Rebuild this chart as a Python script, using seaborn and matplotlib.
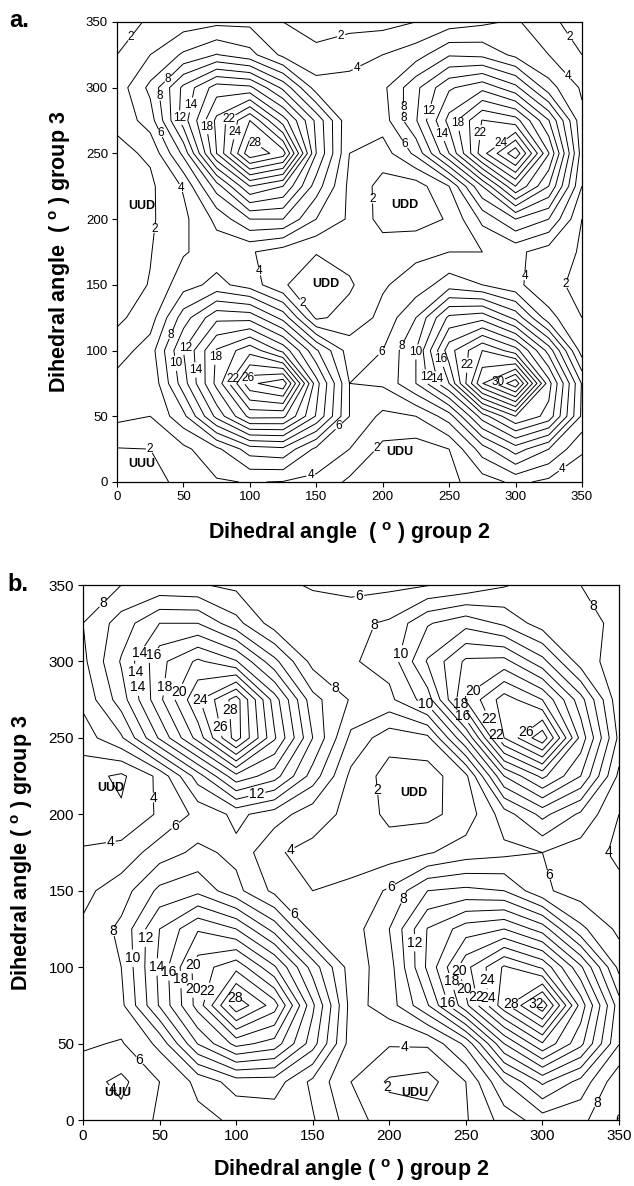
import numpy as np
import matplotlib
matplotlib.use('Agg')
import matplotlib.pyplot as plt
import seaborn as sns

# grid of dihedral angles (deg) on which the energies were read
angles = list(range(0, 351, 25))
levels = list(range(2, 33, 2))
ticks = list(range(0, 351, 50))

# panel a energies, rows from 350 (top) down to 0, columns 0..350
energy_a = [
    [1.0, 2.3, 3.0, 3.5, 3.5, 2.0, 1.5, 1.2, 1.3, 2.0, 3.0, 3.6, 4.3, 2.5, 1.0],
    [2.0, 4.0, 6.3, 8.1, 6.7, 3.5, 2.3, 3.5, 4.0, 5.1, 7.8, 7.5, 5.5, 4.0, 2.0],
    [2.8, 6.5, 12.5, 17.0, 16.5, 11.5, 5.0, 4.5, 5.5, 9.5, 13.7, 15.4, 12.6, 6.8, 3.7],
    [2.4, 5.0, 13.0, 20.5, 26.0, 19.0, 11.5, 4.3, 5.0, 9.8, 16.7, 22.1, 20.9, 14.1, 4.5],
    [1.5, 2.3, 8.5, 20.0, 29.5, 27.0, 12.0, 4.0, 3.0, 6.5, 14.0, 23.2, 29.5, 18.1, 5.0],
    [1.0, 1.6, 4.2, 11.0, 18.0, 16.0, 9.0, 3.5, 1.3, 1.0, 4.0, 12.0, 20.0, 14.0, 4.0],
    [0.6, 1.7, 3.5, 6.5, 10.0, 10.0, 6.0, 3.7, 1.3, 1.1, 2.2, 6.5, 10.0, 8.0, 2.0],
    [0.8, 1.9, 3.8, 5.0, 4.2, 3.0, 2.1, 2.8, 3.0, 3.6, 4.0, 4.0, 4.5, 3.0, 1.8],
    [1.0, 2.1, 5.2, 6.6, 5.1, 2.2, 0.8, 1.7, 3.8, 4.8, 7.1, 6.0, 4.5, 2.5, 1.5],
    [1.6, 3.0, 9.0, 13.5, 13.3, 9.3, 1.6, 2.8, 4.5, 8.0, 14.5, 15.3, 11.4, 4.7, 2.0],
    [3.0, 5.0, 12.0, 18.2, 21.3, 17.4, 10.3, 5.0, 6.0, 10.0, 19.2, 24.0, 20.9, 13.2, 3.0],
    [4.8, 4.2, 11.1, 18.6, 27.5, 29.5, 14.8, 6.0, 6.3, 10.0, 16.0, 27.9, 33.5, 18.8, 7.8],
    [4.5, 4.0, 7.4, 14.6, 20.6, 20.5, 13.8, 6.0, 3.5, 4.0, 7.0, 15.0, 20.0, 17.3, 7.6],
    [1.9, 2.0, 3.5, 5.5, 9.0, 9.5, 5.5, 4.0, 1.5, 1.0, 2.0, 7.0, 11.0, 8.0, 4.3],
    [0.5, 1.0, 2.8, 3.8, 4.1, 3.9, 3.5, 1.6, 0.8, 0.6, 1.5, 3.0, 4.5, 3.5, 2.5],
]

# panel b energies, same layout
energy_b = [
    [7.0, 8.0, 8.5, 8.2, 7.5, 6.5, 5.8, 5.3, 5.5, 5.9, 6.5, 7.8, 9.0, 8.0, 7.2],
    [8.0, 10.9, 14.0, 14.0, 10.7, 7.0, 7.2, 7.5, 8.3, 11.8, 13.3, 11.6, 9.0, 8.3, 7.8],
    [7.5, 12.2, 17.4, 20.4, 18.2, 12.6, 7.3, 7.8, 8.7, 14.2, 18.4, 18.7, 14.7, 9.0, 7.0],
    [6.5, 11.0, 17.5, 23.7, 29.0, 19.0, 10.7, 7.8, 7.5, 11.0, 20.2, 25.0, 22.0, 14.8, 6.6],
    [5.0, 7.7, 14.3, 20.8, 29.0, 20.3, 12.0, 5.5, 2.8, 3.5, 12.0, 24.0, 29.5, 17.3, 7.5],
    [2.8, 1.6, 4.5, 11.0, 17.4, 14.9, 9.1, 3.5, 1.2, 1.0, 3.5, 14.0, 18.5, 14.0, 5.5],
    [3.0, 2.3, 4.3, 6.5, 8.5, 7.0, 4.8, 3.5, 1.5, 1.5, 2.8, 7.0, 10.6, 7.6, 4.0],
    [4.2, 4.8, 7.0, 8.5, 7.5, 4.2, 3.5, 3.0, 3.0, 3.8, 5.0, 5.5, 6.0, 5.0, 3.6],
    [5.5, 7.0, 10.5, 11.5, 8.6, 5.5, 4.0, 4.5, 6.3, 10.0, 10.5, 10.0, 6.4, 5.0, 4.5],
    [6.3, 8.5, 14.0, 17.8, 16.0, 11.2, 5.3, 5.0, 8.0, 14.1, 17.0, 18.0, 15.1, 8.5, 5.5],
    [6.3, 8.0, 14.5, 21.0, 23.4, 18.3, 11.1, 5.0, 7.1, 14.4, 21.4, 26.3, 23.7, 16.4, 7.4],
    [6.8, 7.5, 14.2, 20.8, 29.5, 25.0, 14.4, 5.2, 7.0, 11.8, 19.5, 27.3, 33.5, 21.2, 10.9],
    [6.3, 5.8, 8.5, 16.1, 20.7, 19.2, 12.9, 5.0, 4.2, 4.3, 8.5, 18.0, 23.8, 18.6, 10.1],
    [4.8, 3.5, 6.0, 8.5, 11.0, 11.0, 7.5, 4.0, 1.7, 1.2, 4.0, 10.0, 14.4, 11.3, 6.5],
    [4.8, 4.6, 6.3, 7.5, 8.3, 8.8, 8.2, 5.0, 2.8, 2.8, 3.8, 6.8, 9.0, 8.5, 6.0],
]

conformers = ['UUD', 'UDD', 'UDD', 'UUU', 'UDU']
sites_a = [(19, 210), (217, 211), (157, 151), (19, 14), (213, 23)]
conformers_b = ['UUD', 'UDD', 'UUU', 'UDU']
sites_b = [(18, 217), (216, 214), (23, 18), (217, 18)]

# where the contour values are written (deg)
clabel_a = [(11, 338), (38, 307), (29, 293), (55, 287), (47, 277), (65, 270), (84, 277),
            (90, 266), (104, 258), (32, 265), (49, 224), (27, 193),
            (170, 335), (178, 320), (337, 336), (337, 307), (219, 285), (232, 283),
            (214, 277), (220, 259), (257, 273), (245, 265), (281, 265), (290, 256),
            (187, 215), (138, 135), (110, 161),
            (38, 113), (50, 103), (42, 90), (56, 85), (72, 95), (85, 80), (100, 78),
            (26, 26), (144, 13), (169, 40),
            (198, 100), (213, 104), (223, 99), (233, 80), (243, 93), (243, 79),
            (262, 89), (287, 76), (190, 30), (336, 9), (316, 156), (328, 154)]
clabel_b = [(15, 336), (39, 304), (49, 302), (35, 293), (34, 283), (57, 283), (65, 279),
            (75, 275), (95, 268), (89, 257),
            (181, 339), (182, 327), (332, 336),
            (208, 305), (172, 291), (223, 270), (253, 283), (248, 273), (248, 264),
            (266, 263), (270, 252), (288, 255),
            (16, 196), (48, 211), (60, 193), (114, 211), (182, 215), (132, 183),
            (22, 124), (40, 119), (35, 106), (50, 100), (58, 97), (65, 92), (69, 103),
            (76, 86), (82, 84), (99, 80), (39, 41), (8, 11), (137, 134),
            (198, 158), (206, 146), (215, 116), (236, 76), (238, 90), (247, 85),
            (247, 98), (255, 80), (266, 80), (267, 92), (280, 75), (296, 76),
            (210, 49), (195, 20), (320, 165), (338, 177), (334, 12), (344, 7)]

sns.set_theme(style='ticks')
plt.rcParams['font.family'] = ['Liberation Sans', 'DejaVu Sans']
plt.rcParams['mathtext.fontset'] = 'custom'
plt.rcParams['mathtext.rm'] = 'Liberation Sans'
plt.rcParams['mathtext.bf'] = 'Liberation Sans:bold'
plt.rcParams['text.color'] = 'black'
plt.rcParams['axes.labelcolor'] = 'black'

fig = plt.figure(figsize=(6.34, 11.86), dpi=100)
ax_a = fig.add_axes([0.1845, 0.5936, 0.7334, 0.3879])
ax_b = fig.add_axes([0.1309, 0.0556, 0.8454, 0.4511])


def draw(ax, grid, pts, names, sites, tick_fs, lab_fs, xlab, ylab, ylab_x, xlab_y):
    z = np.array(grid)[::-1]
    cs = ax.contour(angles, angles, z, levels=levels, colors='black', linewidths=0.7)
    texts = ax.clabel(cs, manual=pts, inline=True, inline_spacing=1, fmt='%d',
                      fontsize=lab_fs)
    for t in texts:
        t.set_rotation(0)
    for name, (x, y) in zip(names, sites):
        ax.text(x, y, name, ha='center', va='center', fontsize=9, fontweight='bold')
    ax.set_xlim(0, 350)
    ax.set_ylim(0, 350)
    ax.set_xticks(ticks)
    ax.set_yticks(ticks)
    ax.tick_params(direction='out', length=3.5, width=0.8, labelsize=tick_fs, pad=3,
                   colors='black')
    for s in ax.spines.values():
        s.set_linewidth(0.9)
        s.set_color('black')
    ax.set_xlabel(xlab, fontsize=15.5, fontweight='bold', color='black')
    ax.set_ylabel(ylab, fontsize=15.5, fontweight='bold', color='black')
    ax.xaxis.label.set_va('center')
    ax.yaxis.label.set_va('center')
    ax.xaxis.set_label_coords(0.5, xlab_y)
    ax.yaxis.set_label_coords(ylab_x, 0.5)


draw(ax_a, energy_a, clabel_a, conformers, sites_a, 9.5, 8.5,
     r'Dihedral angle  ( $^{\mathbf{o}}$ ) group 2',
     r'Dihedral angle  ( $^{\mathbf{o}}$ ) group 3', -0.123, -0.112)
draw(ax_b, energy_b, clabel_b, conformers_b, sites_b, 11, 10,
     r'Dihedral angle ( $^{\mathbf{o}}$ ) group 2',
     r'Dihedral angle ( $^{\mathbf{o}}$ ) group 3', -0.114, -0.094)

fig.text(0.030, 0.983, 'a.', fontsize=17, fontweight='bold', ha='center', va='center')
fig.text(0.028, 0.507, 'b.', fontsize=17, fontweight='bold', ha='center', va='center')

fig.savefig('out.png', dpi=100, facecolor='white')
